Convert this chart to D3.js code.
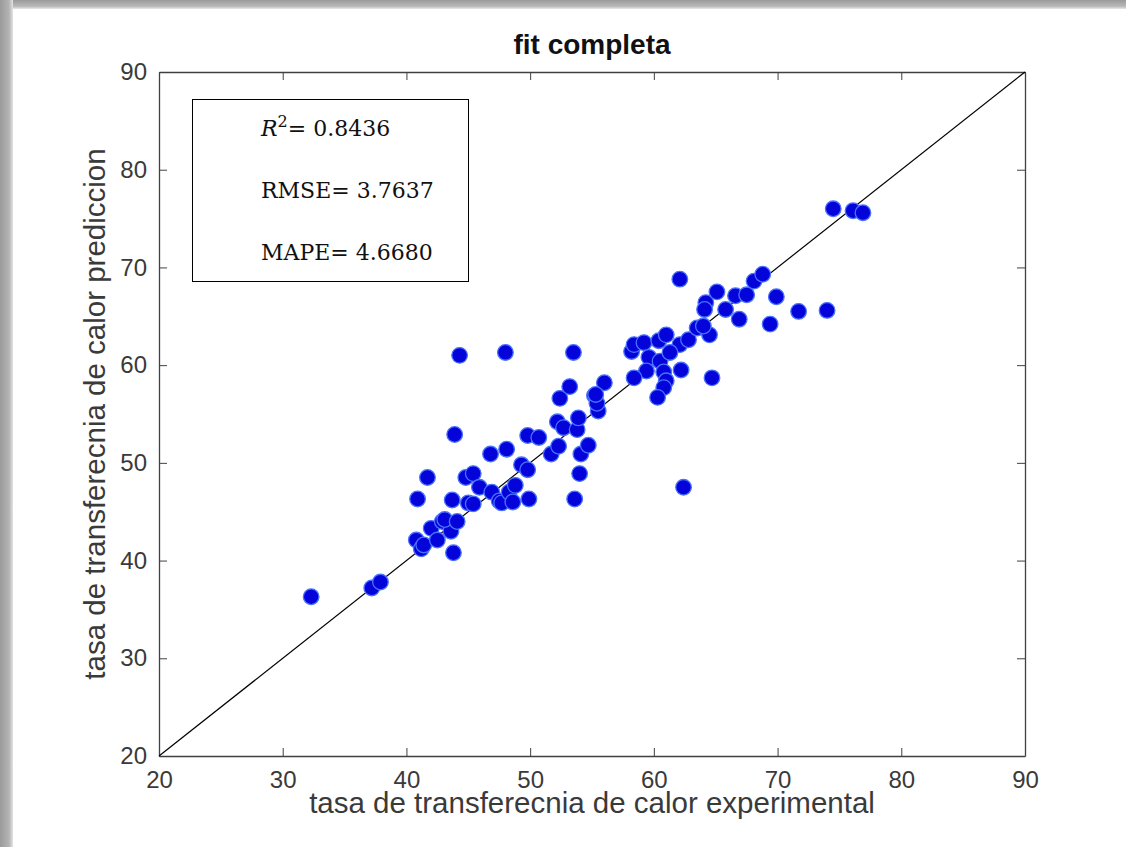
<!DOCTYPE html>
<html>
<head>
<meta charset="utf-8">
<script src="https://cdn.jsdelivr.net/npm/d3@7"></script>
<style>
  html, body { margin: 0; padding: 0; background: #fff; }
  svg { display: block; }
</style>
</head>
<body>
<script>
var width = 1126
var height = 847

// plot area
var plotLeft = 159
var plotRight = 1025
var plotTop = 72
var plotBottom = 756

var titleText = 'fit completa'
var xLabelText = 'tasa de transferecnia de calor experimental'
var yLabelText = 'tasa de transferecnia de calor prediccion'
var xDomain = [20, 90]
var yDomain = [20, 90]
var xTicks = [20, 30, 40, 50, 60, 70, 80, 90]
var yTicks = [20, 30, 40, 50, 60, 70, 80, 90]
var statLabels = ['R', 'RMSE', 'MAPE']
var statValues = ['0.8436', '3.7637', '4.6680']

// experimental (x) vs predicted (y)
var experimental = [
  32.3, 37.2, 37.9, 40.8, 41.2, 41.4, 42.0, 42.5, 42.9, 43.6,
  43.8, 43.1, 44.1, 40.9, 41.7, 43.7, 43.9, 44.3, 44.8, 45.4,
  45.9, 45.0, 45.4, 46.9, 47.5, 47.7, 48.3, 48.6, 48.8, 49.9,
  46.8, 48.1, 48.0, 49.3, 49.8, 49.8, 50.7, 51.7, 52.3, 52.2,
  52.7, 53.8, 53.9, 52.4, 53.2, 53.5, 53.6, 54.0, 54.1, 54.7,
  55.2, 55.5, 56.0, 55.4, 58.2, 58.4, 59.2, 60.4, 61.0, 62.1,
  62.8, 63.5, 64.5, 59.6, 60.5, 61.3, 60.8, 62.2, 59.4, 58.4,
  61.0, 60.8, 60.3, 64.7, 62.1, 64.2, 64.1, 65.1, 65.8, 66.6,
  67.5, 66.9, 68.1, 68.8, 69.9, 69.4, 71.7, 74.0, 74.5, 76.1,
  76.9, 62.4, 64.0, 55.3
]
var prediction = [
  36.3, 37.2, 37.8, 42.1, 41.2, 41.6, 43.3, 42.1, 44.0, 43.0,
  40.8, 44.2, 44.0, 46.3, 48.5, 46.2, 52.9, 61.0, 48.5, 48.9,
  47.5, 45.9, 45.8, 47.0, 46.1, 45.9, 47.0, 46.0, 47.7, 46.3,
  50.9, 51.4, 61.3, 49.8, 49.3, 52.8, 52.6, 50.9, 51.7, 54.2,
  53.6, 53.4, 54.6, 56.6, 57.8, 61.3, 46.3, 48.9, 50.9, 51.8,
  56.9, 55.3, 58.2, 56.1, 61.4, 62.1, 62.3, 62.5, 63.1, 62.1,
  62.6, 63.8, 63.1, 60.8, 60.4, 61.3, 59.3, 59.5, 59.4, 58.7,
  58.4, 57.7, 56.7, 58.7, 68.8, 66.4, 65.7, 67.5, 65.7, 67.1,
  67.2, 64.7, 68.6, 69.3, 67.0, 64.2, 65.5, 65.6, 76.0, 75.8,
  75.6, 47.5, 64.0, 57.0
]

var svg
var x
var y

window.onload = main

function main() {
  setupSvg()
  drawFrame()
  drawAxes()
  drawPoints()
  drawStats()
  drawLabels()
}

function setupSvg() {
  svg = d3.select('body').append('svg')
    .attr('width', width)
    .attr('height', height)
    .attr('viewBox', '0 0 ' + width + ' ' + height)

  x = d3.scaleLinear().domain(xDomain).range([plotLeft, plotRight])
  y = d3.scaleLinear().domain(yDomain).range([plotBottom, plotTop])
}

// grey shadow along the top and left edge of the screenshot
function drawFrame() {
  var defs = svg.append('defs')
  var gTop = defs.append('linearGradient').attr('id', 'shadeTop')
    .attr('x1', 0).attr('y1', 0).attr('x2', 0).attr('y2', 1)
  gTop.append('stop').attr('offset', '0%').attr('stop-color', '#9a9a9a')
  gTop.append('stop').attr('offset', '70%').attr('stop-color', '#b8b8b8')
  gTop.append('stop').attr('offset', '100%').attr('stop-color', '#e8e8e8')
  var gLeft = defs.append('linearGradient').attr('id', 'shadeLeft')
    .attr('x1', 0).attr('y1', 0).attr('x2', 1).attr('y2', 0)
  gLeft.append('stop').attr('offset', '0%').attr('stop-color', '#9a9a9a')
  gLeft.append('stop').attr('offset', '70%').attr('stop-color', '#b4b4b4')
  gLeft.append('stop').attr('offset', '100%').attr('stop-color', '#e4e4e4')

  svg.append('rect').attr('x', 0).attr('y', 0)
    .attr('width', width).attr('height', 9)
    .style('fill', 'url(#shadeTop)')
  svg.append('rect').attr('x', 0).attr('y', 0)
    .attr('width', 13).attr('height', height)
    .style('fill', 'url(#shadeLeft)')
}

function drawAxes() {
  var tickFont = '"Liberation Sans", Arial, sans-serif'
  var tickColor = '#3a3a3a'

  // ticks inside, on all four sides (matlab box on)
  var axBottom = svg.append('g')
    .attr('transform', 'translate(0,' + plotBottom + ')')
    .call(d3.axisBottom(x).tickValues(xTicks).tickSizeInner(-8).tickSizeOuter(0).tickPadding(15))
  var axTop = svg.append('g')
    .attr('transform', 'translate(0,' + plotTop + ')')
    .call(d3.axisTop(x).tickValues(xTicks).tickSizeInner(-8).tickSizeOuter(0).tickFormat(''))
  var axLeft = svg.append('g')
    .attr('transform', 'translate(' + plotLeft + ',0)')
    .call(d3.axisLeft(y).tickValues(yTicks).tickSizeInner(-8).tickSizeOuter(0).tickPadding(12))
  var axRight = svg.append('g')
    .attr('transform', 'translate(' + plotRight + ',0)')
    .call(d3.axisRight(y).tickValues(yTicks).tickSizeInner(-8).tickSizeOuter(0).tickFormat(''))

  ;[axBottom, axTop, axLeft, axRight].forEach(function(ax) {
    ax.select('.domain').style('stroke', '#404040').style('stroke-width', 1.3)
    ax.selectAll('.tick line').style('stroke', '#404040').style('stroke-width', 1)
    ax.selectAll('.tick text')
      .style('font-family', tickFont)
      .style('font-size', '24px')
      .style('fill', tickColor)
  })

  // y = x reference line
  svg.append('line')
    .attr('x1', x(xDomain[0])).attr('y1', y(yDomain[0]))
    .attr('x2', x(xDomain[1])).attr('y2', y(yDomain[1]))
    .style('stroke', '#000')
    .style('stroke-width', 1.2)
}

function drawPoints() {
  var pts = experimental.map(function(d, i) { return { ex: d, pr: prediction[i] } })

  svg.append('g').selectAll('circle')
    .data(pts)
    .enter()
    .append('circle')
    .attr('cx', (d) => { return x(d.ex) })
    .attr('cy', (d) => { return y(d.pr) })
    .attr('r', 7.8)
    .style('fill', '#0303da')
    .style('stroke', '#4a72ff')
    .style('stroke-width', 1.3)
}

function drawStats() {
  var serif = '"DejaVu Serif", "Liberation Serif", serif'
  svg.append('rect')
    .attr('x', 192.5).attr('y', 99.5)
    .attr('width', 276).attr('height', 182)
    .style('fill', '#fff')
    .style('stroke', '#000')
    .style('stroke-width', 1)

  var baselines = [136, 198, 260]
  statLabels.forEach(function(lab, i) {
    var t = svg.append('text')
      .attr('x', 261)
      .attr('y', baselines[i])
      .style('font-family', serif)
      .style('font-size', '22px')
      .style('fill', '#111')
    if(i === 0) {
      t.append('tspan').style('font-style', 'italic').text(lab)
      t.append('tspan').attr('dy', -9).style('font-size', '16px').text('2')
      t.append('tspan').attr('dy', 9).text('= ' + statValues[i])
    } else {
      t.text(lab + '= ' + statValues[i])
    }
  })
}

function drawLabels() {
  var font = '"Liberation Sans", Arial, sans-serif'

  svg.append('text')
    .attr('x', (plotLeft + plotRight) / 2)
    .attr('y', 54)
    .attr('text-anchor', 'middle')
    .style('font-family', font)
    .style('font-weight', 'bold')
    .style('font-size', '28px')
    .style('fill', '#111')
    .text(titleText)

  svg.append('text')
    .attr('x', (plotLeft + plotRight) / 2)
    .attr('y', 813)
    .attr('text-anchor', 'middle')
    .style('font-family', font)
    .style('font-size', '29.5px')
    .style('fill', '#3a3a3a')
    .text(xLabelText)

  svg.append('text')
    .attr('transform', 'translate(105,' + (plotTop + plotBottom) / 2 + ') rotate(-90)')
    .attr('text-anchor', 'middle')
    .style('font-family', font)
    .style('font-size', '29.5px')
    .style('fill', '#3a3a3a')
    .text(yLabelText)
}
</script>
</body>
</html>
